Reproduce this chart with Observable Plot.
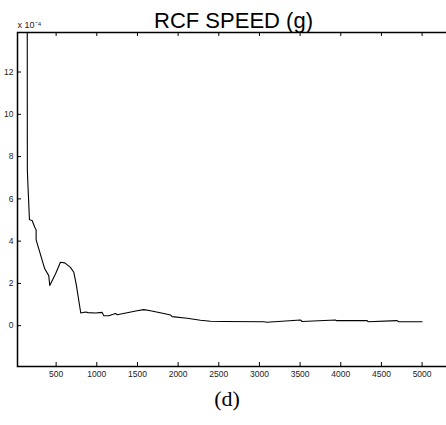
<!DOCTYPE html>
<html><head><meta charset="utf-8">
<script src="https://cdn.jsdelivr.net/npm/d3@7"></script>
<script src="https://cdn.jsdelivr.net/npm/@observablehq/plot@0.6"></script>
<style>
body{margin:0;background:#fff;width:446px;height:425px;overflow:hidden;position:relative;}
#chart svg{overflow:hidden;}
#cap{font-family:"Liberation Serif","DejaVu Serif",serif;font-size:22px;position:absolute;left:0;width:454px;text-align:center;top:386px;color:#000;}
</style></head><body>
<div id="chart"></div>
<div id="cap">(d)</div>
<script>
const speedX = [144, 146, 151, 172, 205, 237, 254, 254, 360, 409, 422, 492, 553, 606, 676, 717, 746, 803, 861, 894, 984, 1066, 1086, 1147, 1230, 1250, 1496, 1578, 1660, 1824, 1906, 1926, 2111, 2275, 2398, 2557, 3053, 3094, 3504, 3525, 3935, 3947, 4324, 4336, 4693, 4713, 5000];
const speedY = [20, 7.4, 6.87, 5.01, 4.98, 4.66, 4.54, 4.06, 2.69, 2.37, 1.90, 2.45, 3.0, 2.97, 2.76, 2.53, 1.98, 0.60, 0.65, 0.62, 0.60, 0.63, 0.47, 0.47, 0.58, 0.52, 0.71, 0.76, 0.71, 0.58, 0.51, 0.43, 0.35, 0.26, 0.21, 0.20, 0.19, 0.16, 0.27, 0.20, 0.27, 0.24, 0.24, 0.19, 0.24, 0.19, 0.19];
const xTicks = [500, 1000, 1500, 2000, 2500, 3000, 3500, 4000, 4500, 5000];
const yTicks = [0, 2, 4, 6, 8, 10, 12];
const title = "RCF SPEED (g)";
const exponentLabel = "x 10\u207B\u2074";

const data = speedX.map((x, i) => ({x, y: speedY[i]}));
const W = 446, H = 385, mL = 17, mT = 32, mB = 19, mR = -3;
const fw = W - mL - mR, fh = H - mT - mB;
const plot = Plot.plot({
  width: W, height: H, marginLeft: mL, marginTop: mT, marginBottom: mB, marginRight: mR,
  style: {fontFamily: "'Liberation Sans', Arial, sans-serif", fontSize: "8.5px", color: "#000", background: "#fff"},
  x: {domain: [25, 5337]},
  y: {domain: [-1.93, 13.87]},
  marks: [
    Plot.line(data, {x: "x", y: "y", stroke: "#000", strokeWidth: 1.1, clip: true}),
    Plot.axisX(xTicks, {tickSize: 0, tickPadding: 4, label: null, fill: "#222", tickFormat: d => String(d)}),
    Plot.axisY(yTicks, {tickSize: 0, tickPadding: 4, label: null, fill: "#222", tickFormat: d => String(d)}),
    Plot.tickX(xTicks, {x: d => d, insetTop: fh - 4, stroke: "#000"}),
    Plot.tickX(xTicks, {x: d => d, insetBottom: fh - 4, stroke: "#000"}),
    Plot.tickY(yTicks, {y: d => d, insetRight: fw - 4, stroke: "#000"}),
    Plot.frame({stroke: "#000", strokeWidth: 1.5}),
    Plot.text([title], {text: d => d, frameAnchor: "top", dx: 0, dy: -5, lineAnchor: "bottom", fontSize: 22}),
    Plot.text([exponentLabel], {text: d => d, frameAnchor: "top-left", dy: -5, lineAnchor: "bottom", textAnchor: "start", fontSize: 9, fill: "#222"})
  ]
});
document.getElementById("chart").appendChild(plot);
</script>
</body></html>
